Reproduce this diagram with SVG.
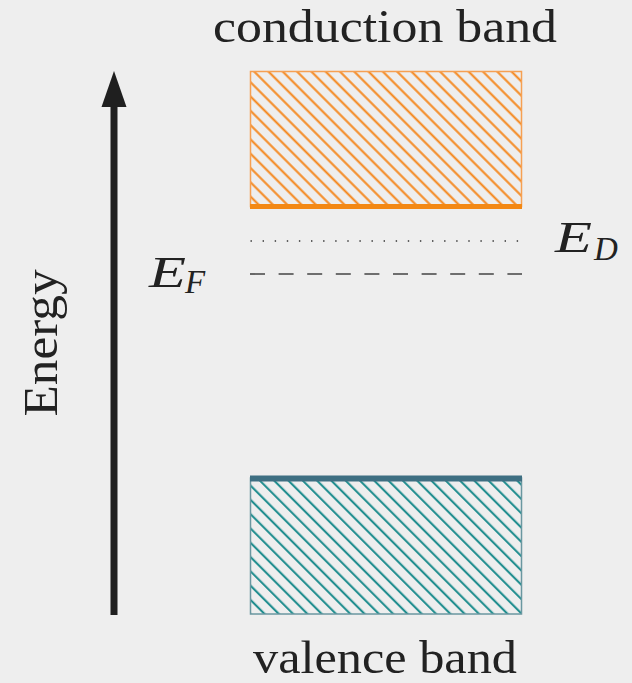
<svg xmlns="http://www.w3.org/2000/svg" width="632" height="683" viewBox="0 0 632 683">
  <style>
    .lbl { font-family: "Liberation Serif", "DejaVu Serif", serif; fill: #222222; }
    .math { font-family: "Liberation Serif", "DejaVu Serif", serif; font-style: italic; fill: #222222; }
  </style>
  <defs>
    <pattern id="hatchOrange" patternUnits="userSpaceOnUse" width="20" height="10.11" patternTransform="rotate(45)">
      <line x1="-1" y1="2.3" x2="21" y2="2.3" stroke="#f5861a" stroke-width="2"/>
    </pattern>
    <pattern id="hatchTeal" patternUnits="userSpaceOnUse" width="20" height="10.11" patternTransform="rotate(45)">
      <line x1="-1" y1="4.4" x2="21" y2="4.4" stroke="#16898a" stroke-width="2"/>
    </pattern>
  </defs>
  <rect width="632" height="683" fill="#eeeeee"/>

  <g id="energy-axis">
    <rect x="110.5" y="104" width="7" height="511" fill="#1f1f1f"/>
    <polygon points="114,71 101.5,107 126.5,107" fill="#1f1f1f"/>
    <text class="lbl" transform="translate(57,343) rotate(-90)" font-size="48" text-anchor="middle" textLength="147" lengthAdjust="spacingAndGlyphs">Energy</text>
  </g>

  <g id="conduction-band">
    <rect x="250.5" y="71.5" width="271" height="135" fill="url(#hatchOrange)" stroke="#f6a052" stroke-width="1.5"/>
    <line x1="250" y1="206.5" x2="522" y2="206.5" stroke="#f38814" stroke-width="5"/>
    <text class="lbl" x="385" y="41.5" font-size="46" text-anchor="middle" textLength="344" lengthAdjust="spacingAndGlyphs">conduction band</text>
  </g>

  <g id="valence-band">
    <rect x="250.5" y="478" width="271" height="136" fill="url(#hatchTeal)" stroke="#6a97a0" stroke-width="1.5"/>
    <line x1="250" y1="478.5" x2="522" y2="478.5" stroke="#3e6f82" stroke-width="6"/>
    <text class="lbl" x="385" y="673" font-size="46" text-anchor="middle" textLength="264" lengthAdjust="spacingAndGlyphs">valence band</text>
  </g>

  <g id="donor-level">
    <line x1="250.5" y1="241" x2="520" y2="241" stroke="#333333" stroke-width="1.6" stroke-dasharray="1.4 10.7"/>
    <text class="math" x="555" y="252" font-size="44" textLength="37" lengthAdjust="spacingAndGlyphs">E</text>
    <text class="math" x="594" y="260" font-size="33">D</text>
  </g>

  <g id="fermi-level">
    <line x1="250" y1="274" x2="522" y2="274" stroke="#444444" stroke-width="1.6" stroke-dasharray="15 13.6"/>
    <text class="math" x="149" y="287" font-size="44" textLength="37" lengthAdjust="spacingAndGlyphs">E</text>
    <text class="math" x="185" y="293" font-size="33">F</text>
  </g>
</svg>
